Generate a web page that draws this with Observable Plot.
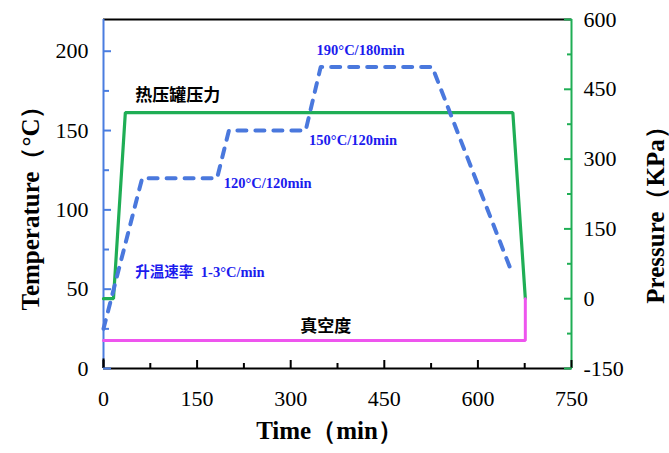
<!DOCTYPE html>
<html><head><meta charset="utf-8">
<script src="https://cdn.jsdelivr.net/npm/d3@7"></script>
<script src="https://cdn.jsdelivr.net/npm/@observablehq/plot@0.6"></script>
<style>body{margin:0;background:#fff}</style>
</head><body><div id="chart"></div>
<script>
// ---- data ----
const tempTime  = [0, 62, 182, 201, 324, 348, 527, 653];
const tempValue = [25, 120, 120, 150, 150, 190, 190, 62];
const pressTime  = [0, 16, 35, 656, 676];
const pressValue = [0, 0, 400, 400, 0];
const vacTime  = [0, 676, 676];
const vacValue = [-90, -90, 0];

const xTicks = [0, 150, 300, 450, 600, 750];
const xMinor = [75, 225, 375, 525, 675];
const tTicks = [0, 50, 100, 150, 200];
const tMinor = [25, 75, 125, 175];
const pTicks = [-150, 0, 150, 300, 450, 600];
const pMinor = [-75, 75, 225, 375, 525];

const blackNotes = [
  {label: "热压罐压力", t: 119, temp: 172},
  {label: "真空度", t: 356, temp: 26.5}
];
const blueNotes = [
  {label: "190°C/180min", t: 412, temp: 200.5},
  {label: "150°C/120min", t: 400, temp: 143.8},
  {label: "120°C/120min", t: 263, temp: 116.6}
];
const rateCn  = [{label: "升温速率", t: 51, temp: 60.5}];
const rateNum = [{label: "1-3°C/min", t: 156, temp: 60.5}];

// ---- scales ----
const T_MIN = 0, T_MAX = 220, P_MIN = -150, P_MAX = 600, X_MAX = 750;
const toT = p => (p - P_MIN) * (T_MAX - T_MIN) / (P_MAX - P_MIN) + T_MIN;
const fromT = t => Math.round((t - T_MIN) * (P_MAX - P_MIN) / (T_MAX - T_MIN) + P_MIN);

const temps = tempTime.map((t, i) => ({t, v: tempValue[i]}));
const press = pressTime.map((t, i) => ({t, p: pressValue[i]}));
const vac = vacTime.map((t, i) => ({t, p: vacValue[i]}));

const serif = "'Liberation Serif', 'Times New Roman', serif";
const cjk = "'Noto Sans CJK SC', sans-serif";
const BLUE_AX = "#4a7de0", GREEN = "#1fae55", MAGENTA = "#ee55ee", DASH = "#4a78dd", TXT_BLUE = "#1c1cee";

const chart = Plot.plot({
  width: 669, height: 453,
  marginLeft: 103, marginRight: 98, marginTop: 19, marginBottom: 85,
  x: {domain: [0, X_MAX], axis: null},
  y: {domain: [T_MIN, T_MAX], axis: null},
  style: {background: "#fff"},
  marks: [
    // frame
    Plot.ruleY([T_MIN], {stroke: "#000", strokeWidth: 2}),
    Plot.ruleY([T_MAX], {stroke: "#000", strokeWidth: 2}),
    Plot.ruleX([0], {stroke: BLUE_AX, strokeWidth: 2}),
    Plot.ruleX([0], {y1: T_MIN, y2: 6, stroke: "#000", strokeWidth: 2}),
    Plot.ruleX([X_MAX], {stroke: GREEN, strokeWidth: 2}),
    // bottom axis ticks (inward)
    Plot.axisX(xTicks, {anchor: "bottom", tickSize: 8, insetBottom: 8, fill: "none", stroke: "#000", strokeWidth: 2, label: null}),
    Plot.axisX(xMinor, {anchor: "bottom", tickSize: 5, insetBottom: 5, fill: "none", stroke: "#000", strokeWidth: 2, label: null}),
    Plot.axisX(xTicks, {anchor: "bottom", tickSize: 0, tickPadding: 22, fontSize: 22, fontFamily: serif, fill: "#000", label: null}),
    // left axis
    Plot.axisY(tTicks, {anchor: "left", tickSize: 8, insetLeft: 8, fill: "none", stroke: BLUE_AX, strokeWidth: 2, label: null}),
    Plot.axisY(tMinor, {anchor: "left", tickSize: 6, insetLeft: 6, fill: "none", stroke: BLUE_AX, strokeWidth: 2, label: null}),
    Plot.axisY(tTicks, {anchor: "left", tickSize: 0, tickPadding: 15, fontSize: 22, fontFamily: serif, fill: "#000", label: null}),
    // right axis
    Plot.axisY(pTicks.map(toT), {anchor: "right", tickSize: 8, insetRight: 8, fill: "none", stroke: GREEN, strokeWidth: 2, label: null}),
    Plot.axisY(pMinor.map(toT), {anchor: "right", tickSize: 5, insetRight: 5, fill: "none", stroke: GREEN, strokeWidth: 2, label: null}),
    Plot.axisY(pTicks.map(toT), {anchor: "right", tickSize: 0, tickPadding: 12, fontSize: 22, fontFamily: serif, fill: "#000", tickFormat: d => String(fromT(d)), label: null}),
    // axis titles
    Plot.text(["Temperature（°C）"], {frameAnchor: "left", textAnchor: "middle", dx: -73, dy: 8, rotate: -90, fontSize: 25, fontWeight: "bold", fontFamily: serif, fill: "#000"}),
    Plot.text(["Pressure（KPa）"], {frameAnchor: "right", textAnchor: "middle", dx: 84, dy: 15, rotate: -90, fontSize: 25, fontWeight: "bold", fontFamily: serif, fill: "#000"}),
    Plot.text(["Time（min）"], {frameAnchor: "bottom", textAnchor: "middle", dx: -8, dy: 70, fontSize: 25, fontWeight: "bold", fontFamily: serif, fill: "#000"}),
    // series
    Plot.line(press, {x: "t", y: d => toT(d.p), stroke: GREEN, strokeWidth: 3.2, strokeLinejoin: "miter"}),
    Plot.line(vac, {x: "t", y: d => toT(d.p), stroke: MAGENTA, strokeWidth: 3, strokeLinejoin: "miter"}),
    Plot.line(temps, {x: "t", y: "v", stroke: DASH, strokeWidth: 4, strokeDasharray: "9,9", strokeLinecap: "round"}),
    // annotations
    Plot.text(blackNotes, {x: "t", y: "temp", text: "label", fontSize: 17, fontWeight: "bold", fontFamily: cjk, fill: "#000"}),
    Plot.text(blueNotes, {x: "t", y: "temp", text: "label", fontSize: 14.5, fontWeight: "bold", fontFamily: serif, fill: TXT_BLUE}),
    Plot.text(rateCn, {x: "t", y: "temp", text: "label", textAnchor: "start", fontSize: 14.5, fontWeight: "bold", fontFamily: cjk, fill: TXT_BLUE}),
    Plot.text(rateNum, {x: "t", y: "temp", text: "label", textAnchor: "start", fontSize: 14.5, fontWeight: "bold", fontFamily: serif, fill: TXT_BLUE})
  ]
});
document.getElementById("chart").appendChild(chart);
</script>
</body></html>
